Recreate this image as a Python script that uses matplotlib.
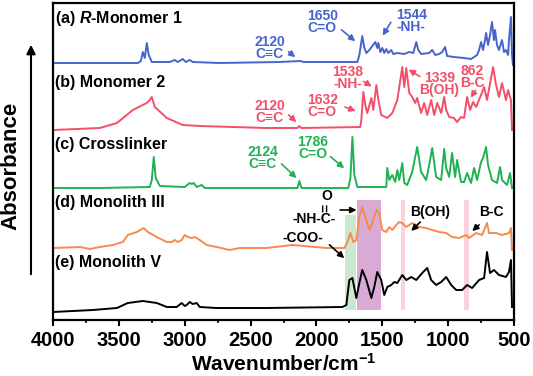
import matplotlib
matplotlib.use('Agg')
import matplotlib.pyplot as plt
from matplotlib.ticker import MultipleLocator

plt.rcParams['font.family'] = ['Liberation Sans', 'DejaVu Sans']
plt.rcParams['font.weight'] = 'bold'
plt.rcParams['mathtext.fontset'] = 'custom'
plt.rcParams['mathtext.rm'] = 'Liberation Sans:bold'
plt.rcParams['mathtext.it'] = 'Liberation Sans:bold:italic'
plt.rcParams['mathtext.bf'] = 'Liberation Sans:bold'

# spectra: wavenumber (cm-1) and stacked absorbance (a.u.)
wn_a = [4000, 3644, 3356, 3333, 3318, 3303, 3288, 3273, 3250, 3114, 3076, 3053, 3015, 2992, 2962, 2939,
        2735, 2280, 2121, 2098, 1689, 1674, 1652, 1636, 1621, 1598, 1553, 1538, 1530, 1515, 1500, 1485,
        1470, 1455, 1432, 1417, 1386, 1333, 1295, 1265, 1242, 1227, 1205, 1144, 1121, 1098, 1068, 1045,
        1023, 1008, 955, 879, 826, 780, 765, 750, 735, 720, 712, 697, 682, 667, 652, 644, 629, 614, 591,
        576, 561, 545, 538, 523, 515, 508]
abs_a = [257, 257, 257, 259, 268, 262, 277, 265, 258, 258, 260, 258, 261, 258, 260, 258,
         257, 258, 259, 258, 258, 265, 284, 272, 267, 270, 278, 272, 277, 268, 272, 267,
         271, 267, 270, 266, 267, 266, 268, 267, 278, 270, 266, 267, 270, 265, 266, 268,
         273, 264, 263, 262, 261, 265, 270, 278, 270, 280, 287, 275, 285, 298, 280, 290, 275, 270, 280,
         268, 270, 265, 280, 303, 265, 255]

wn_b = [4000, 3644, 3515, 3394, 3288, 3265, 3250, 3227, 3136, 3015, 2886, 2379, 2144, 2129, 2114, 1667,
        1659, 1644, 1629, 1614, 1583, 1568, 1545, 1530, 1508, 1462, 1424, 1386, 1348, 1333, 1318, 1295,
        1273, 1250, 1235, 1205, 1182, 1159, 1129, 1106, 1083, 1053, 1030, 1015, 992, 955, 932, 902, 879,
        856, 833, 811, 788, 750, 727, 705, 674, 659, 636, 614, 591, 561, 545, 530, 523, 515]
abs_b = [190, 192, 197, 210, 217, 220, 223, 213, 202, 195, 194, 192, 192, 194, 192, 193,
         200, 228, 215, 207, 222, 210, 235, 220, 205, 202, 207, 220, 253, 233, 252, 227,
         223, 217, 222, 207, 217, 205, 220, 205, 217, 207, 223, 210, 203, 202, 198, 203, 202,
         223, 210, 218, 213, 225, 233, 220, 242, 253, 235, 223, 237, 220, 230, 223, 220, 190]

wn_c = [4000, 3644, 3265, 3250, 3235, 3220, 3189, 3000, 2962, 2947, 2932, 2909, 2871, 2848, 2144, 2129,
        2114, 1758, 1742, 1727, 1712, 1689, 1470, 1462, 1447, 1424, 1402, 1386, 1371, 1348, 1333, 1311,
        1273, 1235, 1205, 1167, 1144, 1121, 1091, 1053, 1030, 1015, 992, 970, 947, 932, 902, 879, 856,
        826, 803, 780, 750, 735, 712, 697, 667, 629, 606, 591, 553, 530, 515]
abs_c = [132, 132, 133, 140, 163, 142, 134, 133, 137, 136, 137, 133, 135, 132, 132, 139,
         132, 132, 142, 183, 145, 133, 133, 152, 140, 145, 138, 150, 140, 157, 137, 135,
         148, 173, 148, 140, 155, 172, 143, 140, 171, 152, 143, 167, 143, 160, 138, 138, 147,
         137, 152, 140, 158, 162, 173, 155, 140, 137, 153, 140, 135, 147, 132]

wn_d = [4000, 3795, 3720, 3644, 3545, 3470, 3432, 3364, 3311, 3280, 3212, 3136, 3098, 3076, 3053, 3023,
        3000, 2977, 2947, 2924, 2886, 2833, 2758, 2659, 2583, 2379, 2182, 1924, 1788, 1765, 1742, 1720,
        1697, 1674, 1652, 1629, 1598, 1576, 1545, 1523, 1500, 1470, 1447, 1424, 1394, 1371, 1348, 1318,
        1273, 1220, 1167, 1121, 1068, 1015, 970, 917, 864, 841, 788, 742, 705, 689, 636, 591, 538, 523, 515]
abs_d = [72, 73, 71, 73, 75, 78, 85, 88, 92, 88, 83, 78, 78, 80, 78, 80,
         85, 83, 82, 83, 80, 75, 73, 70, 72, 72, 75, 72, 72, 78, 87, 78,
         80, 103, 113, 103, 90, 97, 110, 107, 90, 88, 93, 90, 95, 98, 97, 93,
         97, 93, 92, 90, 88, 87, 83, 82, 85, 82, 87, 85, 97, 87, 87, 85, 87, 92, 70]

wn_e = [4000, 3697, 3515, 3432, 3318, 3212, 3136, 3061, 3023, 3000, 2985, 2962, 2939, 2909, 2886, 2758,
        2636, 2379, 1803, 1773, 1750, 1727, 1697, 1674, 1652, 1621, 1583, 1561, 1538, 1508, 1485, 1462,
        1432, 1409, 1386, 1348, 1318, 1280, 1242, 1197, 1159, 1129, 1091, 1053, 1015, 977, 939, 894, 856,
        818, 765, 727, 705, 682, 652, 614, 561, 538, 523, 515]
abs_e = [8, 10, 12, 17, 19, 17, 13, 13, 17, 14, 15, 18, 16, 17, 13, 12,
         12, 12, 13, 15, 40, 42, 22, 37, 50, 40, 22, 33, 48, 40, 25, 33,
         35, 38, 37, 45, 40, 43, 40, 47, 52, 40, 35, 38, 43, 35, 30, 30, 35,
         32, 40, 42, 68, 47, 50, 45, 43, 48, 60, 13]

names = ['(a) $\\mathit{R}$-Monomer 1', '(b) Monomer 2', '(c) Crosslinker',
         '(d) Monolith III', '(e) Monolith V']
name_y = [302, 238, 175, 117, 58]
colors = ['#4565CC', '#F24F68', '#1FB254', '#F78A4C', '#000000']

# highlighted bands: (wn_high, wn_low, top, colour)
bands = [(1780, 1697, 105, '#CBE7CF'), (1689, 1508, 120, '#D9AAD4'),
         (1356, 1326, 120, '#FBD3DB'), (879, 841, 120, '#FBD3DB')]

# peak labels: text, text pos, arrow tail, arrow tip, colour index
peak_labels = [
    ('2120\nC≡C', (2356, 272), (2227, 270), (2144, 261), 0),
    ('1650\nC=O', (1955, 298), (1826, 292), (1689, 277), 0),
    ('1544\n-NH-', (1280, 299), (1424, 300), (1508, 282), 0),
    ('2120\nC≡C', (2356, 208), (2227, 207), (2136, 196), 1),
    ('1632\nC=O', (1955, 214), (1803, 214), (1682, 208), 1),
    ('1538\n-NH-', (1765, 242), (1659, 240), (1561, 232), 1),
    ('1339\nB(OH)', (1068, 236), (1197, 242), (1318, 252), 1),
    ('862\nB-C', (818, 243), (780, 232), (841, 220), 1),
    ('2124\nC≡C', (2409, 162), (2280, 158), (2136, 140), 2),
    ('1786\nC=O', (2030, 172), (1909, 165), (1773, 150), 2),
    ('-NH-C-', (2015, 101), (1841, 110), (1674, 110), 4),
    ('-COO-', (2106, 82), (1917, 77), (1773, 60), 4),
    ('B(OH)', (1136, 108), (1197, 100), (1295, 87), 4),
    ('B-C', (674, 108), (750, 97), (833, 87), 4),
]

fig = plt.figure(figsize=(5.33, 3.76), dpi=100)
ax = fig.add_axes([53 / 533, 56 / 376, 461 / 533, 317 / 376])

for hi, lo, top, c in bands:
    ax.fill_between([hi, lo], 10, top, color=c, lw=0, zorder=0)

spectra = [(wn_a, abs_a), (wn_b, abs_b), (wn_c, abs_c), (wn_d, abs_d), (wn_e, abs_e)]
for (wn, ab), c, name, ny in zip(spectra, colors, names, name_y):
    ax.plot(wn, ab, color=c, lw=1.4, zorder=2)
    ax.text(3985, ny, name, fontsize=11.5, fontweight='bold', ha='left', va='center')

for txt, pos, tail, tip, ci in peak_labels:
    c = colors[ci]
    ax.text(pos[0], pos[1], txt, color=c, fontsize=10, fontweight='bold',
            ha='center', va='center', linespacing=0.9)
    ax.annotate('', xy=tip, xytext=tail,
                arrowprops=dict(arrowstyle='-|>', color=c, lw=1.2, mutation_scale=9))

# carbonyl drawn above the C of -NH-C-
ax.text(1924, 124, 'O', fontsize=10, fontweight='bold', ha='center', va='center')
ax.text(1924, 112, '=', fontsize=10, fontweight='bold', ha='center', va='center', rotation=90)

ax.set_xlim(4000, 500)
ax.set_ylim(0, 317)
ax.set_yticks([])
ax.xaxis.set_major_locator(MultipleLocator(500))
ax.xaxis.set_minor_locator(MultipleLocator(250))
ax.tick_params(axis='x', which='major', length=4, width=1.5, labelsize=14.5, pad=4)
ax.tick_params(axis='x', which='minor', length=2.5, width=1.2)
for lab in ax.get_xticklabels():
    lab.set_fontweight('bold')
for s in ax.spines.values():
    s.set_linewidth(1.6)
ax.set_xlabel('Wavenumber/cm$^{-1}$', fontsize=15, fontweight='bold', labelpad=2)

fig.text(11 / 533, 1 - 166 / 376, 'Absorbance', rotation=90, fontsize=16,
         fontweight='bold', ha='center', va='center')
ax.annotate('', xy=(31, 376 - 42), xytext=(31, 376 - 277), xycoords='figure pixels',
            textcoords='figure pixels', annotation_clip=False,
            arrowprops=dict(arrowstyle='-|>', color='black', lw=1.5, mutation_scale=13))

plt.savefig('out.png', dpi=100)
